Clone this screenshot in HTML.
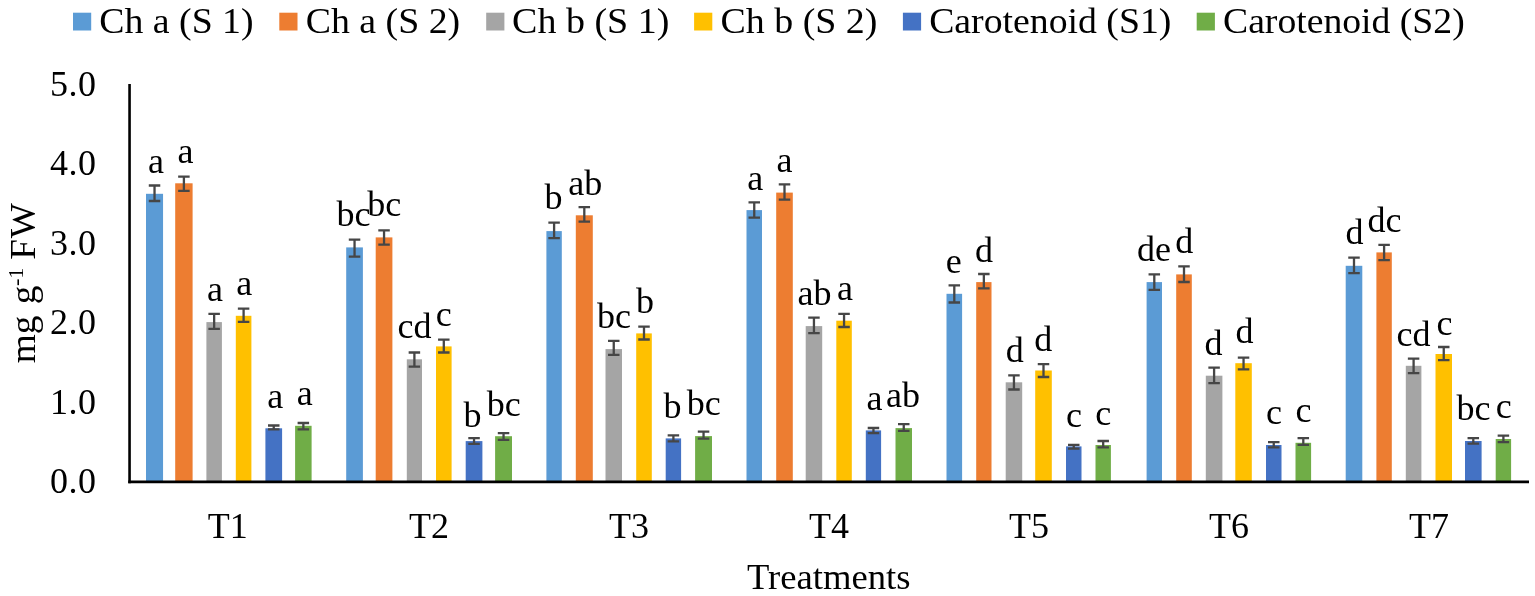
<!DOCTYPE html><html><head><meta charset="utf-8"><style>html,body{margin:0;padding:0;background:#fff;}svg{display:block;}text{font-family:"Liberation Serif","Times New Roman",serif;fill:#000;}</style></head><body>
<svg width="1535" height="596" viewBox="0 0 1535 596">
<rect width="1535" height="596" fill="#fff"/>
<rect x="146.00" y="193.80" width="17.05" height="287.80" fill="#5B9BD5"/>
<rect x="175.20" y="183.30" width="17.40" height="298.30" fill="#ED7D31"/>
<rect x="206.40" y="322.10" width="15.50" height="159.50" fill="#A5A5A5"/>
<rect x="235.80" y="315.80" width="15.60" height="165.80" fill="#FFC000"/>
<rect x="265.40" y="428.30" width="16.70" height="53.30" fill="#4472C4"/>
<rect x="295.10" y="425.80" width="16.50" height="55.80" fill="#70AD47"/>
<rect x="346.20" y="247.40" width="16.70" height="234.20" fill="#5B9BD5"/>
<rect x="375.70" y="237.40" width="16.70" height="244.20" fill="#ED7D31"/>
<rect x="406.80" y="359.30" width="15.20" height="122.30" fill="#A5A5A5"/>
<rect x="436.00" y="346.40" width="15.60" height="135.20" fill="#FFC000"/>
<rect x="465.70" y="441.10" width="16.70" height="40.50" fill="#4472C4"/>
<rect x="495.10" y="436.20" width="16.90" height="45.40" fill="#70AD47"/>
<rect x="546.40" y="231.10" width="15.40" height="250.50" fill="#5B9BD5"/>
<rect x="575.80" y="215.30" width="17.00" height="266.30" fill="#ED7D31"/>
<rect x="605.50" y="349.10" width="16.50" height="132.50" fill="#A5A5A5"/>
<rect x="636.20" y="333.40" width="15.60" height="148.20" fill="#FFC000"/>
<rect x="665.70" y="438.40" width="15.40" height="43.20" fill="#4472C4"/>
<rect x="695.10" y="436.10" width="16.90" height="45.50" fill="#70AD47"/>
<rect x="746.50" y="210.10" width="15.50" height="271.50" fill="#5B9BD5"/>
<rect x="776.20" y="192.60" width="16.60" height="289.00" fill="#ED7D31"/>
<rect x="805.70" y="326.10" width="16.50" height="155.50" fill="#A5A5A5"/>
<rect x="836.30" y="320.70" width="15.50" height="160.90" fill="#FFC000"/>
<rect x="865.80" y="430.40" width="15.30" height="51.20" fill="#4472C4"/>
<rect x="895.50" y="428.10" width="16.50" height="53.50" fill="#70AD47"/>
<rect x="946.50" y="293.80" width="15.60" height="187.80" fill="#5B9BD5"/>
<rect x="976.20" y="282.10" width="15.30" height="199.50" fill="#ED7D31"/>
<rect x="1005.70" y="382.30" width="16.50" height="99.30" fill="#A5A5A5"/>
<rect x="1035.20" y="370.50" width="16.60" height="111.10" fill="#FFC000"/>
<rect x="1066.00" y="446.40" width="15.50" height="35.20" fill="#4472C4"/>
<rect x="1095.50" y="445.00" width="15.40" height="36.60" fill="#70AD47"/>
<rect x="1146.60" y="282.10" width="15.40" height="199.50" fill="#5B9BD5"/>
<rect x="1176.20" y="274.40" width="15.60" height="207.20" fill="#ED7D31"/>
<rect x="1205.80" y="375.70" width="16.60" height="105.90" fill="#A5A5A5"/>
<rect x="1235.30" y="363.20" width="16.50" height="118.40" fill="#FFC000"/>
<rect x="1266.00" y="445.00" width="15.50" height="36.60" fill="#4472C4"/>
<rect x="1295.50" y="442.80" width="15.60" height="38.80" fill="#70AD47"/>
<rect x="1345.70" y="265.80" width="16.60" height="215.80" fill="#5B9BD5"/>
<rect x="1376.40" y="252.40" width="15.40" height="229.20" fill="#ED7D31"/>
<rect x="1405.80" y="365.80" width="15.60" height="115.80" fill="#A5A5A5"/>
<rect x="1435.50" y="354.00" width="16.50" height="127.60" fill="#FFC000"/>
<rect x="1465.00" y="441.00" width="16.60" height="40.60" fill="#4472C4"/>
<rect x="1495.70" y="439.00" width="15.40" height="42.60" fill="#70AD47"/>
<path d="M148.78 185.50H160.28M154.53 185.50V201.00M148.78 201.00H160.28" stroke="#464646" stroke-width="2.3" fill="none"/>
<path d="M178.15 176.60H189.65M183.90 176.60V190.80M178.15 190.80H189.65" stroke="#464646" stroke-width="2.3" fill="none"/>
<path d="M208.40 313.80H219.90M214.15 313.80V328.90M208.40 328.90H219.90" stroke="#464646" stroke-width="2.3" fill="none"/>
<path d="M237.85 308.70H249.35M243.60 308.70V321.80M237.85 321.80H249.35" stroke="#464646" stroke-width="2.3" fill="none"/>
<path d="M268.00 425.50H279.50M273.75 425.50V429.30M268.00 429.30H279.50" stroke="#464646" stroke-width="2.3" fill="none"/>
<path d="M297.60 423.00H309.10M303.35 423.00V429.30M297.60 429.30H309.10" stroke="#464646" stroke-width="2.3" fill="none"/>
<path d="M348.80 239.60H360.30M354.55 239.60V256.70M348.80 256.70H360.30" stroke="#464646" stroke-width="2.3" fill="none"/>
<path d="M378.30 230.30H389.80M384.05 230.30V244.60M378.30 244.60H389.80" stroke="#464646" stroke-width="2.3" fill="none"/>
<path d="M408.65 352.50H420.15M414.40 352.50V366.70M408.65 366.70H420.15" stroke="#464646" stroke-width="2.3" fill="none"/>
<path d="M438.05 339.70H449.55M443.80 339.70V352.50M438.05 352.50H449.55" stroke="#464646" stroke-width="2.3" fill="none"/>
<path d="M468.30 438.20H479.80M474.05 438.20V443.80M468.30 443.80H479.80" stroke="#464646" stroke-width="2.3" fill="none"/>
<path d="M497.80 433.10H509.30M503.55 433.10V439.90M497.80 439.90H509.30" stroke="#464646" stroke-width="2.3" fill="none"/>
<path d="M548.35 222.60H559.85M554.10 222.60V238.10M548.35 238.10H559.85" stroke="#464646" stroke-width="2.3" fill="none"/>
<path d="M578.55 207.20H590.05M584.30 207.20V221.70M578.55 221.70H590.05" stroke="#464646" stroke-width="2.3" fill="none"/>
<path d="M608.00 340.80H619.50M613.75 340.80V354.90M608.00 354.90H619.50" stroke="#464646" stroke-width="2.3" fill="none"/>
<path d="M638.25 326.70H649.75M644.00 326.70V339.50M638.25 339.50H649.75" stroke="#464646" stroke-width="2.3" fill="none"/>
<path d="M667.65 435.30H679.15M673.40 435.30V441.30M667.65 441.30H679.15" stroke="#464646" stroke-width="2.3" fill="none"/>
<path d="M697.80 431.70H709.30M703.55 431.70V438.70M697.80 438.70H709.30" stroke="#464646" stroke-width="2.3" fill="none"/>
<path d="M748.50 202.40H760.00M754.25 202.40V217.60M748.50 217.60H760.00" stroke="#464646" stroke-width="2.3" fill="none"/>
<path d="M778.75 184.30H790.25M784.50 184.30V199.70M778.75 199.70H790.25" stroke="#464646" stroke-width="2.3" fill="none"/>
<path d="M808.20 317.70H819.70M813.95 317.70V333.10M808.20 333.10H819.70" stroke="#464646" stroke-width="2.3" fill="none"/>
<path d="M838.30 313.80H849.80M844.05 313.80V327.00M838.30 327.00H849.80" stroke="#464646" stroke-width="2.3" fill="none"/>
<path d="M867.70 428.00H879.20M873.45 428.00V433.10M867.70 433.10H879.20" stroke="#464646" stroke-width="2.3" fill="none"/>
<path d="M898.00 424.10H909.50M903.75 424.10V430.80M898.00 430.80H909.50" stroke="#464646" stroke-width="2.3" fill="none"/>
<path d="M948.55 285.30H960.05M954.30 285.30V302.50M948.55 302.50H960.05" stroke="#464646" stroke-width="2.3" fill="none"/>
<path d="M978.10 274.00H989.60M983.85 274.00V288.40M978.10 288.40H989.60" stroke="#464646" stroke-width="2.3" fill="none"/>
<path d="M1008.20 375.40H1019.70M1013.95 375.40V389.50M1008.20 389.50H1019.70" stroke="#464646" stroke-width="2.3" fill="none"/>
<path d="M1037.75 364.20H1049.25M1043.50 364.20V377.00M1037.75 377.00H1049.25" stroke="#464646" stroke-width="2.3" fill="none"/>
<path d="M1068.00 444.80H1079.50M1073.75 444.80V448.70M1068.00 448.70H1079.50" stroke="#464646" stroke-width="2.3" fill="none"/>
<path d="M1097.45 441.00H1108.95M1103.20 441.00V447.40M1097.45 447.40H1108.95" stroke="#464646" stroke-width="2.3" fill="none"/>
<path d="M1148.55 274.40H1160.05M1154.30 274.40V289.80M1148.55 289.80H1160.05" stroke="#464646" stroke-width="2.3" fill="none"/>
<path d="M1178.25 266.30H1189.75M1184.00 266.30V282.00M1178.25 282.00H1189.75" stroke="#464646" stroke-width="2.3" fill="none"/>
<path d="M1208.35 367.70H1219.85M1214.10 367.70V383.10M1208.35 383.10H1219.85" stroke="#464646" stroke-width="2.3" fill="none"/>
<path d="M1237.80 357.60H1249.30M1243.55 357.60V369.40M1237.80 369.40H1249.30" stroke="#464646" stroke-width="2.3" fill="none"/>
<path d="M1268.00 442.10H1279.50M1273.75 442.10V447.40M1268.00 447.40H1279.50" stroke="#464646" stroke-width="2.3" fill="none"/>
<path d="M1297.55 438.10H1309.05M1303.30 438.10V444.80M1297.55 444.80H1309.05" stroke="#464646" stroke-width="2.3" fill="none"/>
<path d="M1348.25 257.70H1359.75M1354.00 257.70V273.10M1348.25 273.10H1359.75" stroke="#464646" stroke-width="2.3" fill="none"/>
<path d="M1378.35 244.80H1389.85M1384.10 244.80V260.10M1378.35 260.10H1389.85" stroke="#464646" stroke-width="2.3" fill="none"/>
<path d="M1407.85 358.70H1419.35M1413.60 358.70V373.20M1407.85 373.20H1419.35" stroke="#464646" stroke-width="2.3" fill="none"/>
<path d="M1438.00 347.00H1449.50M1443.75 347.00V360.10M1438.00 360.10H1449.50" stroke="#464646" stroke-width="2.3" fill="none"/>
<path d="M1467.55 438.10H1479.05M1473.30 438.10V443.70M1467.55 443.70H1479.05" stroke="#464646" stroke-width="2.3" fill="none"/>
<path d="M1497.65 435.60H1509.15M1503.40 435.60V442.10M1497.65 442.10H1509.15" stroke="#464646" stroke-width="2.3" fill="none"/>
<path d="M129.55 84V483.2" stroke="#000" stroke-width="2.6" fill="none"/>
<path d="M128.25 481.9H1529" stroke="#000" stroke-width="2.6" fill="none"/>
<text x="96" y="493.4" font-size="36" text-anchor="end" textLength="46" lengthAdjust="spacing">0.0</text>
<text x="96" y="413.9" font-size="36" text-anchor="end" textLength="46" lengthAdjust="spacing">1.0</text>
<text x="96" y="334.4" font-size="36" text-anchor="end" textLength="46" lengthAdjust="spacing">2.0</text>
<text x="96" y="254.9" font-size="36" text-anchor="end" textLength="46" lengthAdjust="spacing">3.0</text>
<text x="96" y="175.4" font-size="36" text-anchor="end" textLength="46" lengthAdjust="spacing">4.0</text>
<text x="96" y="95.9" font-size="36" text-anchor="end" textLength="46" lengthAdjust="spacing">5.0</text>
<text x="227.7" y="537.5" font-size="36" text-anchor="middle">T1</text>
<text x="428.9" y="537.5" font-size="36" text-anchor="middle">T2</text>
<text x="628.9" y="537.5" font-size="36" text-anchor="middle">T3</text>
<text x="828.9" y="537.5" font-size="36" text-anchor="middle">T4</text>
<text x="1028.9" y="537.5" font-size="36" text-anchor="middle">T5</text>
<text x="1228.9" y="537.5" font-size="36" text-anchor="middle">T6</text>
<text x="1428.9" y="537.5" font-size="36" text-anchor="middle">T7</text>
<text x="828.7" y="588.9" font-size="36" text-anchor="middle" textLength="163.5" lengthAdjust="spacingAndGlyphs">Treatments</text>
<text transform="translate(34.8 363.2) rotate(-90) scale(1.035 1)" font-size="36">mg <tspan dx="2">g</tspan><tspan font-size="21.6" dx="-0.5" dy="-12.2">-1</tspan><tspan dx="-1.5" dy="12.2"> F</tspan><tspan dx="0.8">W</tspan></text>
<text x="156.1" y="172.8" font-size="36" text-anchor="middle">a</text>
<text x="185.6" y="162.6" font-size="36" text-anchor="middle">a</text>
<text x="214.9" y="301.1" font-size="36" text-anchor="middle">a</text>
<text x="244.3" y="294.8" font-size="36" text-anchor="middle">a</text>
<text x="275.3" y="407.7" font-size="36" text-anchor="middle">a</text>
<text x="304.8" y="405.2" font-size="36" text-anchor="middle">a</text>
<text x="353.6" y="226.4" font-size="36" text-anchor="middle">bc</text>
<text x="384.3" y="216.4" font-size="36" text-anchor="middle">bc</text>
<text x="414.5" y="338.0" font-size="36" text-anchor="middle">cd</text>
<text x="443.8" y="325.6" font-size="36" text-anchor="middle">c</text>
<text x="472.6" y="426.6" font-size="36" text-anchor="middle">b</text>
<text x="503.8" y="415.6" font-size="36" text-anchor="middle">bc</text>
<text x="553.6" y="209.4" font-size="36" text-anchor="middle">b</text>
<text x="585.2" y="195.0" font-size="36" text-anchor="middle">ab</text>
<text x="614.0" y="328.0" font-size="36" text-anchor="middle">bc</text>
<text x="644.9" y="312.5" font-size="36" text-anchor="middle">b</text>
<text x="672.6" y="417.6" font-size="36" text-anchor="middle">b</text>
<text x="703.8" y="415.3" font-size="36" text-anchor="middle">bc</text>
<text x="755.3" y="189.5" font-size="36" text-anchor="middle">a</text>
<text x="784.5" y="172.0" font-size="36" text-anchor="middle">a</text>
<text x="814.6" y="304.8" font-size="36" text-anchor="middle">ab</text>
<text x="845.0" y="300.0" font-size="36" text-anchor="middle">a</text>
<text x="874.5" y="410.0" font-size="36" text-anchor="middle">a</text>
<text x="903.0" y="407.4" font-size="36" text-anchor="middle">ab</text>
<text x="953.8" y="273.0" font-size="36" text-anchor="middle">e</text>
<text x="984.1" y="261.5" font-size="36" text-anchor="middle">d</text>
<text x="1014.8" y="362.4" font-size="36" text-anchor="middle">d</text>
<text x="1043.2" y="350.8" font-size="36" text-anchor="middle">d</text>
<text x="1074.0" y="427.0" font-size="36" text-anchor="middle">c</text>
<text x="1103.3" y="424.5" font-size="36" text-anchor="middle">c</text>
<text x="1154.0" y="261.0" font-size="36" text-anchor="middle">de</text>
<text x="1184.2" y="253.4" font-size="36" text-anchor="middle">d</text>
<text x="1213.6" y="354.8" font-size="36" text-anchor="middle">d</text>
<text x="1244.5" y="343.2" font-size="36" text-anchor="middle">d</text>
<text x="1274.0" y="424.4" font-size="36" text-anchor="middle">c</text>
<text x="1303.5" y="422.0" font-size="36" text-anchor="middle">c</text>
<text x="1354.6" y="244.4" font-size="36" text-anchor="middle">d</text>
<text x="1384.5" y="231.6" font-size="36" text-anchor="middle">dc</text>
<text x="1413.5" y="345.5" font-size="36" text-anchor="middle">cd</text>
<text x="1444.5" y="334.7" font-size="36" text-anchor="middle">c</text>
<text x="1473.6" y="420.4" font-size="36" text-anchor="middle">bc</text>
<text x="1503.8" y="418.0" font-size="36" text-anchor="middle">c</text>
<rect x="73" y="12.7" width="18.2" height="17.8" fill="#5B9BD5"/>
<text x="99.3" y="32.6" font-size="36" textLength="154.3" lengthAdjust="spacingAndGlyphs">Ch a (S 1)</text>
<rect x="279.3" y="12.7" width="18.2" height="17.8" fill="#ED7D31"/>
<text x="305.7" y="32.6" font-size="36" textLength="154.5" lengthAdjust="spacingAndGlyphs">Ch a (S 2)</text>
<rect x="486.2" y="12.7" width="18.2" height="17.8" fill="#A5A5A5"/>
<text x="512.1" y="32.6" font-size="36" textLength="157.3" lengthAdjust="spacingAndGlyphs">Ch b (S 1)</text>
<rect x="694.1" y="12.7" width="18.2" height="17.8" fill="#FFC000"/>
<text x="720.5" y="32.6" font-size="36" textLength="156.9" lengthAdjust="spacingAndGlyphs">Ch b (S 2)</text>
<rect x="902.9" y="12.7" width="18.2" height="17.8" fill="#4472C4"/>
<text x="929.2" y="32.6" font-size="36" textLength="242.2" lengthAdjust="spacingAndGlyphs">Carotenoid (S1)</text>
<rect x="1196.7" y="12.7" width="18.2" height="17.8" fill="#70AD47"/>
<text x="1223.0" y="32.6" font-size="36" textLength="241.7" lengthAdjust="spacingAndGlyphs">Carotenoid (S2)</text>
</svg></body></html>
